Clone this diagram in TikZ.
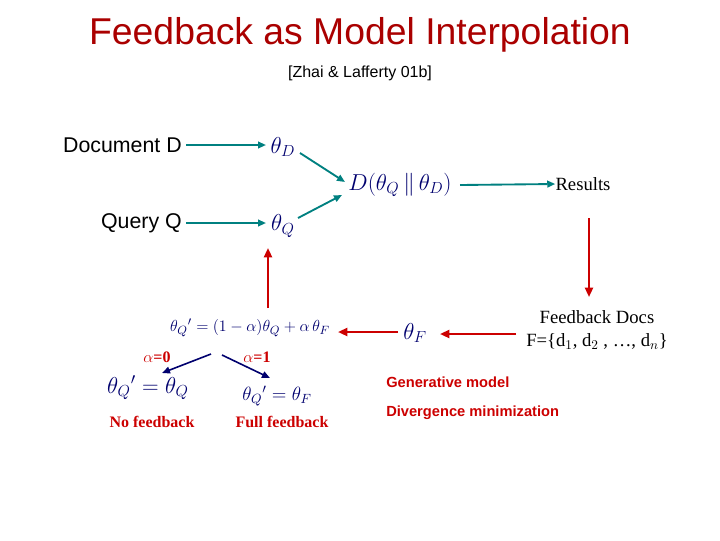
\documentclass[tikz,border=0pt]{standalone}
\usepackage{fontspec}
\setmainfont{Liberation Serif}
\setsansfont{Liberation Sans}
\usetikzlibrary{arrows.meta}
\definecolor{ttl}{RGB}{170,0,0}
\definecolor{teal1}{RGB}{0,128,128}
\definecolor{red1}{RGB}{204,0,0}
\definecolor{navy}{RGB}{0,0,110}
\tikzset{
 tarr/.style={teal1,line width=1.4pt,-{Triangle[length=6pt,width=5pt]}},
 rarr/.style={red1,line width=1.6pt,-{Triangle[length=7pt,width=6pt]}},
 narr/.style={navy,line width=1.2pt,-{Triangle[length=6pt,width=5pt]}},
 lbl/.style={font=\sffamily\fontsize{16}{19}\selectfont,inner sep=0},
 mth/.style={navy,inner sep=1pt,font=\fontsize{17}{20}\selectfont},
 rs/.style={red1,font=\bfseries\fontsize{12}{15}\selectfont,inner sep=0},
 rsans/.style={red1,font=\sffamily\bfseries\fontsize{11}{14}\selectfont,inner sep=0}
}
\begin{document}
\begin{tikzpicture}[x=0.75pt,y=-0.75pt]
\useasboundingbox (0,0) rectangle (720,540);
\node[ttl,font=\sffamily\fontsize{28}{33}\selectfont] (title) at (360,35) {Feedback as Model Interpolation};
\node[font=\sffamily\fontsize{12}{15}\selectfont] (sub) at (360,73) {[Zhai \& Lafferty 01b]};
\node[lbl,anchor=east] (doc) at (182,145) {Document D};
\node[lbl,anchor=east] (qry) at (182,223) {Query Q};
\node[mth] (tD) at (283,147) {$\theta_D$};
\node[mth] (tQ) at (283,226) {$\theta_Q$};
\node[mth] (div) at (400,185) {$D(\theta_Q\,\|\,\theta_D)$};
\node[font=\fontsize{14}{17}\selectfont,inner sep=0] (res) at (583,184) {Results};
\node[font=\fontsize{14}{17}\selectfont,align=center,inner sep=0] (fb) at (597,330) {Feedback Docs\\F=\{d$_1$, d$_2$ , \dots, d$_n$\}};
\node[mth] (tF) at (415,333) {$\theta_F$};
\node[mth,font=\fontsize{13}{16}\selectfont] (form) at (250,328) {$\theta_Q{}'=(1-\alpha)\theta_Q+\alpha\,\theta_F$};
\node[rs] (a0) at (157,357) {$\alpha$=0};
\node[rs] (a1) at (257,357) {$\alpha$=1};
\node[mth] (q0) at (148,388) {$\theta_Q{}'=\theta_Q$};
\node[mth,font=\fontsize{14}{17}\selectfont] (q1) at (277,396) {$\theta_Q{}'=\theta_F$};
\node[rs] (nf) at (152,422) {No feedback};
\node[rs] (ff) at (282,422) {Full feedback};
\node[rsans,anchor=west] (gm) at (386,382) {Generative model};
\node[rsans,anchor=west] (dm) at (386,413) {Divergence minimization};
\coordinate (fsp) at (222,355);
\coordinate (fsl) at (211,354);
\draw[tarr] (186,145) -- (266,145);
\draw[tarr] (186,223) -- (266,223);
\draw[tarr] (300,153) -- (345,182);
\draw[tarr] (298,218) -- (342,195);
\draw[tarr] (460,185) -- (res.west);
\draw[rarr] (589,218) -- (589,297);
\draw[rarr] (516,334) -- (440,334);
\draw[rarr] (398,332) -- (338,332);
\draw[rarr] (268,308) -- (268,248);
\draw[narr] (fsl) -- (162,373);
\draw[narr] (fsp) -- (270,378);
\end{tikzpicture}
\end{document}
